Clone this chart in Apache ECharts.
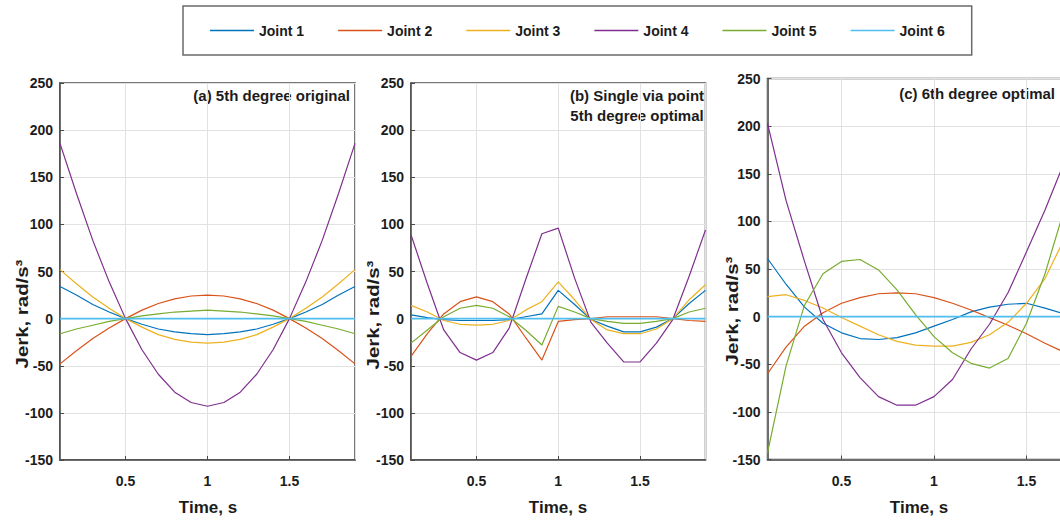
<!DOCTYPE html>
<html>
<head>
<meta charset="utf-8">
<script src="https://cdn.jsdelivr.net/npm/echarts@6/dist/echarts.min.js"></script>
<style>html,body{margin:0;padding:0;background:#fff}#chart{width:1060px;height:523px}</style>
</head>
<body>
<div id="chart"></div>
<script>
// ---- data ----
const jointNames = ['Joint 1', 'Joint 2', 'Joint 3', 'Joint 4', 'Joint 5', 'Joint 6'];
const timeS = [0.1, 0.2, 0.3, 0.4, 0.5, 0.6, 0.7, 0.8, 0.9, 1.0, 1.1, 1.2, 1.3, 1.4, 1.5, 1.6, 1.7, 1.8, 1.9];
const xTickLabels = [0.5, 1, 1.5];

// (a) 5th degree original
const jerkA1 = [34, 25, 15, 7, 0, -6, -11, -14, -16, -17, -16, -14, -11, -6, 0, 7, 15, 25, 34];
const jerkA2 = [-48, -34, -21, -10, 0, 9, 16, 21, 24, 25, 24, 21, 16, 9, 0, -10, -21, -34, -48];
const jerkA3 = [52, 37, 23, 11, 0, -9, -17, -22, -25, -26, -25, -22, -17, -9, 0, 11, 23, 37, 52];
const jerkA4 = [186, 133, 83, 39, 0, -33, -59, -78, -89, -93, -89, -78, -59, -33, 0, 39, 83, 133, 186];
const jerkA5 = [-16, -11, -7, -3, 0, 3, 5, 7, 8, 9, 8, 7, 5, 3, 0, -3, -7, -11, -16];
const jerkA6 = [0, 0, 0, 0, 0, 0, 0, 0, 0, 0, 0, 0, 0, 0, 0, 0, 0, 0, 0];

// (b) single via point, 5th degree optimal
const jerkB1 = [4, 1, -1, -2, -2, -2, -1, 2, 5, 30, 15, -1, -8, -14, -14, -9, 0, 16, 30];
const jerkB2 = [-40, -16, 5, 18, 23, 18, 5, -20, -44, -3, -1, 0, 2, 2, 2, 2, 0, -2, -3];
const jerkB3 = [14, 7, -2, -6, -7, -6, -2, 9, 18, 39, 20, -1, -12, -16, -16, -11, 0, 20, 36];
const jerkB4 = [89, 37, -12, -36, -44, -36, -10, 41, 90, 96, 43, -4, -26, -46, -46, -26, -1, 45, 94];
const jerkB5 = [-26, -12, 2, 11, 14, 11, 2, -12, -28, 13, 7, 0, -3, -5, -5, -3, 0, 7, 11];
const jerkB6 = [0, 0, 0, 0, 0, 0, 0, 0, 0, 0, 0, 0, 0, 0, 0, 0, 0, 0, 0];

// (c) 6th degree optimal
const jerkC1 = [61, 34, 10, -7, -17, -23, -24, -22, -17, -10, -3, 5, 10, 13, 14, 9, 3, -5, -14];
const jerkC2 = [-60, -32, -10, 4, 14, 20, 24, 25, 24, 20, 14, 7, -1, -9, -18, -28, -37, -46, -56];
const jerkC3 = [21, 23, 17, 9, -1, -10, -19, -26, -30, -31, -31, -27, -19, -6, 14, 40, 80, 125, 175];
const jerkC4 = [203, 122, 58, -3, -38, -64, -84, -93, -93, -84, -66, -34, -8, 25, 68, 112, 160, 210, 248];
const jerkC5 = [-143, -52, 12, 45, 58, 60, 49, 28, 2, -21, -38, -49, -54, -44, -7, 45, 110, 170, 230];
const jerkC6 = [0, 0, 0, 0, 0, 0, 0, 0, 0, 0, 0, 0, 0, 0, 0, 0, 0, 0, 0];

const panelTitles = [['(a) 5th degree original'], ['(b) Single via point', '5th degree optimal'], ['(c) 6th degree optimal']];
const xAxisTitle = 'Time, s';
const yAxisTitle = 'Jerk, rad/s³';

// ---- layout / style ----
const panels = [
  [jerkA1, jerkA2, jerkA3, jerkA4, jerkA5, jerkA6],
  [jerkB1, jerkB2, jerkB3, jerkB4, jerkB5, jerkB6],
  [jerkC1, jerkC2, jerkC3, jerkC4, jerkC5, jerkC6]
];
const colors = ['#0072BD', '#D95319', '#EDB120', '#7E2F8E', '#77AC30', '#4DBEEE'];
const FONT = '"Liberation Sans", Arial, sans-serif';
const TXT = '#1c1c1c';
const AX = '#4a4a4a';

const grids = [
  { left: 60, top: 83, width: 295, height: 377 },
  { left: 411, top: 83, width: 294.5, height: 377 },
  { left: 767.5, top: 78.5, width: 333, height: 381 }
];

const grid = grids.map(g => Object.assign({
  show: true, borderColor: AX, borderWidth: 1.5, backgroundColor: 'transparent',
  containLabel: false, outerBoundsMode: 'none'
}, g));

const xAxis = grids.map((g, i) => ({
  type: 'value', gridIndex: i, min: 0.1, max: 1.9, minInterval: 0.5, maxInterval: 0.5,
  axisLine: { show: true, onZero: false, lineStyle: { color: AX, width: 1.5 } },
  axisTick: { show: true, inside: true, length: 4, lineStyle: { color: AX } },
  splitLine: { show: true, lineStyle: { color: '#e2e2e2', width: 1 } },
  axisLabel: {
    showMinLabel: false, showMaxLabel: false, margin: 14,
    color: TXT, fontFamily: FONT, fontSize: 14, fontWeight: 'bold',
    formatter: v => (xTickLabels.indexOf(+v.toFixed(2)) >= 0 ? String(+v.toFixed(2)) : '')
  }
}));

const yAxis = grids.map((g, i) => ({
  type: 'value', gridIndex: i, min: -150, max: 250, interval: 50,
  axisLine: { show: true, onZero: false, lineStyle: { color: AX, width: 1.5 } },
  axisTick: { show: true, inside: true, length: 4, lineStyle: { color: AX } },
  splitLine: { show: true, lineStyle: { color: '#e2e2e2', width: 1 } },
  axisLabel: { margin: 7, color: TXT, fontFamily: FONT, fontSize: 14, fontWeight: 'bold' }
}));

const series = [];
panels.forEach((panel, p) => {
  panel.forEach((vals, j) => {
    series.push({
      type: 'line', name: jointNames[j], xAxisIndex: p, yAxisIndex: p,
      data: timeS.map((t, k) => [t, vals[k]]),
      symbol: 'none', smooth: false, clip: true,
      lineStyle: { color: colors[j], width: j === 5 ? 1.6 : 1.2 },
      itemStyle: { color: colors[j] },
      emphasis: { disabled: true }, animation: false
    });
  });
});

const titleStyle = { fill: TXT, font: 'bold 15px ' + FONT };
const graphic = [
  { type: 'text', x: 350, y: 95, style: Object.assign({ text: panelTitles[0][0], align: 'right', verticalAlign: 'middle' }, titleStyle) },
  { type: 'text', x: 637, y: 95, style: Object.assign({ text: panelTitles[1][0], align: 'center', verticalAlign: 'middle' }, titleStyle) },
  { type: 'text', x: 637, y: 115, style: Object.assign({ text: panelTitles[1][1], align: 'center', verticalAlign: 'middle' }, titleStyle) },
  { type: 'text', x: 1055, y: 93, style: Object.assign({ text: panelTitles[2][0], align: 'right', verticalAlign: 'middle' }, titleStyle) }
];
[[208, 507], [558, 507], [919, 507]].forEach(([x, y]) => {
  graphic.push({ type: 'text', x, y, style: { text: xAxisTitle, align: 'center', verticalAlign: 'middle', fill: TXT, font: 'bold 17px ' + FONT } });
});
[[22, 314], [373, 315], [732, 311]].forEach(([x, y]) => {
  graphic.push({ type: 'text', x, y, rotation: Math.PI / 2, scaleX: 1.2, scaleY: 1,
    style: { text: yAxisTitle, align: 'center', verticalAlign: 'middle', fill: TXT, font: 'bold 17px ' + FONT } });
});

const chart = echarts.init(document.getElementById('chart'), null, { renderer: 'svg', width: 1060, height: 523 });
chart.setOption({
  backgroundColor: '#ffffff',
  animation: false,
  grid, xAxis, yAxis, series, graphic,
  legend: {
    data: jointNames, left: 183, top: 6, orient: 'horizontal',
    icon: 'rect', itemWidth: 44, itemHeight: 1.5, itemGap: 34,
    padding: [17, 27, 17, 27],
    borderColor: '#6a6a6a', borderWidth: 1.5, backgroundColor: '#fff',
    selectedMode: false,
    textStyle: { color: TXT, fontFamily: FONT, fontSize: 14, fontWeight: 'bold', lineHeight: 15 }
  }
});
</script>
</body>
</html>
